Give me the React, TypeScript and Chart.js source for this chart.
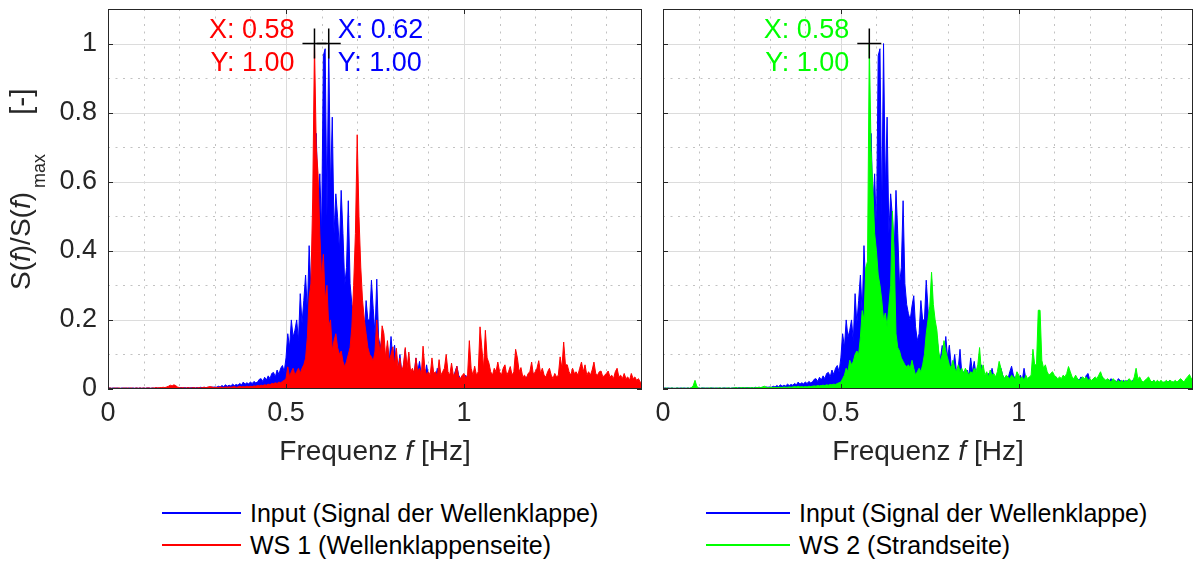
import React, { useEffect, useRef } from 'react';
import { Chart, registerables } from 'chart.js';

Chart.register(...registerables);

const FONT = '"Liberation Sans", Arial, Helvetica, sans-serif';
const AXIS_COLOR = '#262626';
const GRID_MAJOR = '#dcdcdc';
const GRID_MINOR = '#c2c2c2';

// Normalised spectra S(f)/S(f)max, one value per FFT bin (bin width FREQ_STEP, starting at 0 Hz)
const FREQ_STEP = 0.005;

const INPUT_SPEC = [
  0.002, 0.003, 0.002, 0.003, 0.002, 0.003, 0.002, 0.002, 0.003, 0.002,
  0.003, 0.002, 0.003, 0.002, 0.003, 0.002, 0.003, 0.002, 0.003, 0.002,
  0.003, 0.002, 0.003, 0.003, 0.002, 0.003, 0.002, 0.003, 0.003, 0.002,
  0.003, 0.002, 0.003, 0.002, 0.003, 0.003, 0.002, 0.003, 0.002, 0.003,
  0.003, 0.004, 0.003, 0.004, 0.003, 0.004, 0.003, 0.004, 0.004, 0.003,
  0.004, 0.003, 0.005, 0.004, 0.005, 0.004, 0.005, 0.004, 0.006, 0.005,
  0.006, 0.005, 0.008, 0.006, 0.010, 0.007, 0.012, 0.008, 0.011, 0.009,
  0.014, 0.010, 0.013, 0.011, 0.016, 0.012, 0.020, 0.014, 0.018, 0.015,
  0.020, 0.016, 0.022, 0.018, 0.020, 0.028, 0.030, 0.022, 0.034, 0.026,
  0.038, 0.030, 0.045, 0.048, 0.035, 0.055, 0.042, 0.060, 0.068, 0.050,
  0.090, 0.160, 0.120, 0.200, 0.150, 0.170, 0.200, 0.140, 0.276, 0.190,
  0.256, 0.330, 0.220, 0.415, 0.290, 0.343, 0.300, 0.740, 0.530, 0.623,
  0.450, 0.965, 0.985, 0.500, 1.000, 0.575, 0.787, 0.450, 0.565, 0.497,
  0.400, 0.575, 0.450, 0.300, 0.352, 0.545, 0.305, 0.245, 0.218, 0.200,
  0.240, 0.270, 0.180, 0.140, 0.160, 0.256, 0.200, 0.200, 0.315, 0.232,
  0.160, 0.318, 0.150, 0.120, 0.152, 0.100, 0.090, 0.126, 0.080, 0.152,
  0.090, 0.127, 0.070, 0.060, 0.100, 0.050, 0.060, 0.115, 0.045, 0.050,
  0.040, 0.055, 0.040, 0.090, 0.050, 0.080, 0.040, 0.035, 0.030, 0.070,
  0.035, 0.040, 0.030, 0.045, 0.030, 0.060, 0.035, 0.030, 0.040, 0.035,
  0.060, 0.040, 0.030, 0.035, 0.030, 0.050, 0.066, 0.040, 0.030, 0.035,
  0.030, 0.040, 0.025, 0.060, 0.030, 0.025, 0.035, 0.020, 0.030, 0.025,
  0.020, 0.030, 0.015, 0.020, 0.025, 0.020, 0.030, 0.020, 0.025, 0.030,
  0.025, 0.035, 0.020, 0.030, 0.025, 0.020, 0.030, 0.025, 0.035, 0.020,
  0.030, 0.025, 0.020, 0.030, 0.025, 0.035, 0.030, 0.025, 0.040, 0.045,
  0.025, 0.020, 0.030, 0.025, 0.020, 0.030, 0.025, 0.035, 0.020, 0.025,
  0.020, 0.025, 0.030, 0.020, 0.025, 0.020, 0.030, 0.025, 0.020, 0.025,
  0.020, 0.025, 0.015, 0.020, 0.025, 0.020, 0.015, 0.025, 0.020, 0.015,
  0.020, 0.015, 0.025, 0.020, 0.015, 0.020, 0.025, 0.015, 0.020, 0.015,
  0.020, 0.015, 0.020, 0.015, 0.020, 0.025, 0.015, 0.020, 0.015, 0.020,
  0.015, 0.020, 0.015, 0.020, 0.015, 0.020, 0.025, 0.015, 0.020, 0.015,
  0.015,
];

const WS1_SPEC = [
  0.002, 0.003, 0.002, 0.002, 0.003, 0.002, 0.003, 0.002, 0.002, 0.003,
  0.002, 0.003, 0.002, 0.003, 0.002, 0.002, 0.003, 0.002, 0.003, 0.002,
  0.003, 0.002, 0.003, 0.003, 0.002, 0.003, 0.003, 0.004, 0.003, 0.004,
  0.004, 0.005, 0.004, 0.006, 0.008, 0.011, 0.009, 0.012, 0.010, 0.006,
  0.004, 0.003, 0.004, 0.003, 0.003, 0.004, 0.003, 0.003, 0.004, 0.003,
  0.003, 0.004, 0.003, 0.004, 0.005, 0.004, 0.005, 0.007, 0.006, 0.005,
  0.004, 0.005, 0.004, 0.006, 0.005, 0.004, 0.006, 0.005, 0.006, 0.005,
  0.006, 0.007, 0.005, 0.006, 0.008, 0.006, 0.007, 0.006, 0.008, 0.007,
  0.008, 0.007, 0.009, 0.008, 0.010, 0.009, 0.011, 0.010, 0.012, 0.011,
  0.014, 0.012, 0.016, 0.015, 0.018, 0.016, 0.020, 0.018, 0.022, 0.025,
  0.030, 0.064, 0.035, 0.050, 0.060, 0.040, 0.050, 0.060, 0.045, 0.060,
  0.070, 0.089, 0.150, 0.266, 0.305, 0.550, 1.000, 0.700, 0.623, 0.450,
  0.320, 0.390, 0.257, 0.300, 0.180, 0.200, 0.112, 0.140, 0.160, 0.120,
  0.100, 0.110, 0.080, 0.064, 0.080, 0.100, 0.120, 0.180, 0.300, 0.450,
  0.736, 0.500, 0.353, 0.257, 0.200, 0.160, 0.120, 0.100, 0.093, 0.080,
  0.110, 0.200, 0.140, 0.100, 0.183, 0.160, 0.090, 0.140, 0.080, 0.100,
  0.122, 0.070, 0.118, 0.060, 0.090, 0.050, 0.070, 0.120, 0.060, 0.107,
  0.050, 0.060, 0.045, 0.090, 0.050, 0.060, 0.040, 0.124, 0.060, 0.040,
  0.050, 0.040, 0.090, 0.045, 0.050, 0.035, 0.085, 0.040, 0.050, 0.060,
  0.100, 0.050, 0.040, 0.075, 0.040, 0.045, 0.066, 0.035, 0.030, 0.040,
  0.045, 0.030, 0.040, 0.140, 0.060, 0.040, 0.066, 0.040, 0.050, 0.180,
  0.120, 0.060, 0.170, 0.090, 0.075, 0.050, 0.040, 0.060, 0.050, 0.078,
  0.050, 0.040, 0.060, 0.070, 0.040, 0.050, 0.065, 0.040, 0.050, 0.115,
  0.090, 0.050, 0.062, 0.035, 0.040, 0.030, 0.045, 0.050, 0.078, 0.040,
  0.050, 0.060, 0.082, 0.045, 0.060, 0.040, 0.035, 0.050, 0.060, 0.040,
  0.030, 0.045, 0.035, 0.040, 0.093, 0.060, 0.136, 0.070, 0.070, 0.050,
  0.040, 0.060, 0.045, 0.050, 0.040, 0.060, 0.078, 0.050, 0.070, 0.040,
  0.050, 0.040, 0.055, 0.078, 0.045, 0.040, 0.050, 0.052, 0.035, 0.040,
  0.045, 0.052, 0.035, 0.040, 0.030, 0.050, 0.060, 0.035, 0.040, 0.030,
  0.045, 0.030, 0.035, 0.025, 0.045, 0.030, 0.035, 0.025, 0.030, 0.020,
  0.015,
];

const WS2_SPEC = [
  0.002, 0.002, 0.003, 0.002, 0.002, 0.003, 0.002, 0.002, 0.003, 0.002,
  0.002, 0.003, 0.002, 0.002, 0.003, 0.002, 0.004, 0.010, 0.025, 0.008,
  0.003, 0.002, 0.003, 0.002, 0.003, 0.002, 0.003, 0.003, 0.002, 0.003,
  0.002, 0.003, 0.003, 0.002, 0.003, 0.002, 0.003, 0.003, 0.002, 0.003,
  0.003, 0.004, 0.003, 0.003, 0.004, 0.003, 0.004, 0.003, 0.004, 0.003,
  0.004, 0.003, 0.004, 0.004, 0.005, 0.004, 0.006, 0.008, 0.005, 0.004,
  0.004, 0.005, 0.004, 0.005, 0.004, 0.005, 0.005, 0.004, 0.006, 0.005,
  0.005, 0.006, 0.005, 0.006, 0.007, 0.006, 0.008, 0.006, 0.007, 0.006,
  0.007, 0.006, 0.008, 0.007, 0.008, 0.009, 0.008, 0.010, 0.009, 0.010,
  0.011, 0.010, 0.012, 0.011, 0.013, 0.012, 0.014, 0.013, 0.016, 0.018,
  0.020, 0.030, 0.040, 0.060, 0.050, 0.083, 0.070, 0.080, 0.100, 0.110,
  0.100, 0.150, 0.227, 0.200, 0.350, 0.370, 1.000, 0.690, 0.575, 0.450,
  0.400, 0.330, 0.300, 0.257, 0.200, 0.220, 0.180, 0.240, 0.300, 0.515,
  0.390, 0.160, 0.120, 0.110, 0.090, 0.080, 0.070, 0.064, 0.070, 0.060,
  0.083, 0.060, 0.040, 0.050, 0.060, 0.050, 0.070, 0.100, 0.160, 0.200,
  0.240, 0.338, 0.245, 0.200, 0.170, 0.110, 0.080, 0.100, 0.140, 0.110,
  0.090, 0.070, 0.060, 0.083, 0.060, 0.050, 0.070, 0.050, 0.060, 0.045,
  0.060, 0.050, 0.040, 0.050, 0.045, 0.060, 0.050, 0.070, 0.120, 0.050,
  0.070, 0.040, 0.050, 0.035, 0.055, 0.040, 0.045, 0.035, 0.050, 0.080,
  0.060, 0.040, 0.030, 0.040, 0.035, 0.030, 0.040, 0.035, 0.030, 0.050,
  0.040, 0.030, 0.035, 0.025, 0.040, 0.030, 0.035, 0.040, 0.115, 0.070,
  0.070, 0.228, 0.228, 0.083, 0.060, 0.070, 0.050, 0.040, 0.045, 0.050,
  0.040, 0.035, 0.030, 0.035, 0.030, 0.040, 0.035, 0.045, 0.065, 0.050,
  0.035, 0.030, 0.040, 0.030, 0.025, 0.030, 0.035, 0.030, 0.035, 0.025,
  0.030, 0.025, 0.030, 0.035, 0.030, 0.040, 0.050, 0.035, 0.030, 0.025,
  0.030, 0.025, 0.020, 0.030, 0.025, 0.020, 0.025, 0.020, 0.025, 0.020,
  0.025, 0.020, 0.030, 0.025, 0.020, 0.035, 0.060, 0.030, 0.035, 0.025,
  0.020, 0.025, 0.030, 0.035, 0.025, 0.020, 0.025, 0.020, 0.025, 0.020,
  0.025, 0.020, 0.020, 0.025, 0.020, 0.025, 0.022, 0.020, 0.025, 0.020,
  0.025, 0.030, 0.025, 0.020, 0.030, 0.035, 0.042, 0.030, 0.035, 0.030,
  0.025,
];

const X_TICKS = [0, 0.5, 1];
const X_MAJOR_GRID = [0.5, 1];
const X_MINOR_GRID = [0.1, 0.2, 0.3, 0.4, 0.6, 0.7, 0.8, 0.9, 1.1, 1.2, 1.3, 1.4];
const Y_TICKS = [0, 0.2, 0.4, 0.6, 0.8, 1];
const Y_MAJOR_GRID = [0.2, 0.4, 0.6, 0.8, 1];
const Y_MINOR_GRID = [0.1, 0.3, 0.5, 0.7, 0.9];
const Y_MAX = 1.1;

const LEGEND_INPUT = 'Input (Signal der Wellenklappe)';
const LEGEND_WS1 = 'WS 1 (Wellenklappenseite)';
const LEGEND_WS2 = 'WS 2 (Strandseite)';

const BLUE = '#0000ff';
const RED = '#ff0000';
const GREEN = '#00ff00';

// data tips: peak location and value of a series
const TIPS_LEFT = [
  { x: 0.58, y: 1.0, color: RED, align: 'right' },
  { x: 0.62, y: 1.0, color: BLUE, align: 'left' },
];
const TIPS_RIGHT = [{ x: 0.58, y: 1.0, color: GREEN, align: 'right' }];

type Tip = { x: number; y: number; color: string; align: string };
type Series = { label: string; color: string; values: number[] };
type Area = { left: number; top: number; right: number; bottom: number };

const toPoints = (vals: number[], xMax: number) =>
  vals
    .map((v, i) => ({ x: Math.round(i * FREQ_STEP * 1000) / 1000, y: v }))
    .filter((p) => p.x <= xMax + 1e-9);

type Piece = { t: string; italic?: boolean; size?: number; dy?: number };

function drawPieces(ctx: CanvasRenderingContext2D, pieces: Piece[], x0: number, y0: number) {
  let x = x0;
  pieces.forEach((p) => {
    ctx.font = `${p.italic ? 'italic ' : ''}${p.size || 28}px ${FONT}`;
    ctx.fillText(p.t, x, y0 + (p.dy || 0));
    x += ctx.measureText(p.t).width;
  });
}

function piecesWidth(ctx: CanvasRenderingContext2D, pieces: Piece[]) {
  let w = 0;
  pieces.forEach((p) => {
    ctx.font = `${p.italic ? 'italic ' : ''}${p.size || 28}px ${FONT}`;
    w += ctx.measureText(p.t).width;
  });
  return w;
}

function makeDecor(xMax: number, tips: Tip[], yTitle: boolean) {
  return {
    id: 'panelDecor',
    beforeDatasetsDraw(chart: any) {
      const { ctx, chartArea: a, scales } = chart;
      const xs = scales.x;
      const ys = scales.y;
      const vline = (v: number) => {
        const px = Math.round(xs.getPixelForValue(v)) + 0.5;
        ctx.beginPath();
        ctx.moveTo(px, a.top);
        ctx.lineTo(px, a.bottom);
        ctx.stroke();
      };
      const hline = (v: number) => {
        const py = Math.round(ys.getPixelForValue(v)) + 0.5;
        ctx.beginPath();
        ctx.moveTo(a.left, py);
        ctx.lineTo(a.right, py);
        ctx.stroke();
      };
      ctx.save();
      ctx.lineWidth = 1;
      ctx.strokeStyle = GRID_MINOR;
      ctx.setLineDash([2, 5.5]);
      X_MINOR_GRID.filter((v) => v < xMax).forEach(vline);
      Y_MINOR_GRID.forEach(hline);
      ctx.setLineDash([]);
      ctx.strokeStyle = GRID_MAJOR;
      X_MAJOR_GRID.forEach(vline);
      Y_MAJOR_GRID.forEach(hline);
      ctx.restore();
    },
    afterDatasetsDraw(chart: any) {
      const { ctx, chartArea: a, scales } = chart;
      const xs = scales.x;
      const ys = scales.y;
      ctx.save();
      // axes box with inward ticks
      ctx.strokeStyle = AXIS_COLOR;
      ctx.lineWidth = 1;
      ctx.strokeRect(a.left + 0.5, a.top + 0.5, a.right - a.left - 1, a.bottom - a.top - 1);
      ctx.beginPath();
      X_TICKS.forEach((v) => {
        const px = Math.round(xs.getPixelForValue(v)) + 0.5;
        ctx.moveTo(px, a.bottom);
        ctx.lineTo(px, a.bottom - 5);
        ctx.moveTo(px, a.top);
        ctx.lineTo(px, a.top + 5);
      });
      Y_TICKS.forEach((v) => {
        const py = Math.round(ys.getPixelForValue(v)) + 0.5;
        ctx.moveTo(a.left, py);
        ctx.lineTo(a.left + 5, py);
        ctx.moveTo(a.right, py);
        ctx.lineTo(a.right - 5, py);
      });
      ctx.stroke();

      // data tips
      tips.forEach((tip) => {
        const px = xs.getPixelForValue(tip.x);
        const py = ys.getPixelForValue(tip.y);
        ctx.strokeStyle = '#000000';
        ctx.lineWidth = 1.5;
        ctx.beginPath();
        ctx.moveTo(px - 12, py);
        ctx.lineTo(px + 12, py);
        ctx.moveTo(px, py - 15);
        ctx.lineTo(px, py + 15);
        ctx.stroke();
        ctx.fillStyle = tip.color;
        ctx.font = `27px ${FONT}`;
        ctx.textBaseline = 'alphabetic';
        ctx.textAlign = tip.align === 'right' ? 'right' : 'left';
        const tx = tip.align === 'right' ? px - 20 : px + 9;
        ctx.fillText(`X: ${tip.x.toFixed(2)}`, tx, py - 6);
        ctx.fillText(`Y: ${tip.y.toFixed(2)}`, tx, py + 27);
      });
      ctx.restore();
    },
    afterDraw(chart: any) {
      const { ctx, chartArea: a } = chart;
      ctx.save();
      ctx.fillStyle = AXIS_COLOR;
      ctx.textAlign = 'left';
      ctx.textBaseline = 'alphabetic';
      const xt: Piece[] = [{ t: 'Frequenz ' }, { t: 'f', italic: true }, { t: ' [Hz]' }];
      const w = piecesWidth(ctx, xt);
      drawPieces(ctx, xt, (a.left + a.right) / 2 - w / 2, 460);
      if (yTitle) {
        ctx.translate(30, 290);
        ctx.rotate(-Math.PI / 2);
        drawPieces(
          ctx,
          [
            { t: 'S(' },
            { t: 'f', italic: true },
            { t: ')/S(' },
            { t: 'f', italic: true },
            { t: ')' },
          ],
          0,
          0
        );
        drawPieces(ctx, [{ t: 'max', size: 18 }], 102, 15);
        drawPieces(ctx, [{ t: '[-]', size: 30 }], 175, 1);
      }
      ctx.restore();
    },
  };
}

type PanelProps = {
  left: number;
  width: number;
  height: number;
  xMax: number;
  area: Area;
  series: Series[];
  tips: Tip[];
  showYLabels: boolean;
};

function Panel({ left, width, height, xMax, area, series, tips, showYLabels }: PanelProps) {
  const ref = useRef<HTMLCanvasElement>(null);
  useEffect(() => {
    if (!ref.current) return;
    const tickFont = { family: FONT, size: 27 };
    const chart = new Chart(ref.current, {
      type: 'line',
      data: {
        datasets: series.map((s) => ({
          label: s.label,
          data: toPoints(s.values, xMax),
          borderColor: s.color,
          backgroundColor: s.color,
          borderWidth: 1,
          pointRadius: 0,
          tension: 0,
          fill: 'origin',
        })),
      },
      options: {
        animation: false,
        responsive: false,
        devicePixelRatio: 1,
        events: [],
        layout: { padding: { left: 0, top: area.top, right: width - area.right, bottom: 0 } },
        plugins: { legend: { display: false }, tooltip: { enabled: false } },
        scales: {
          x: {
            type: 'linear',
            min: 0,
            max: xMax,
            grid: { display: false, drawTicks: false },
            border: { display: false },
            afterBuildTicks: (s: any) => {
              s.ticks = X_TICKS.map((v) => ({ value: v }));
            },
            ticks: {
              font: tickFont,
              color: AXIS_COLOR,
              padding: 8,
              maxRotation: 0,
              autoSkip: false,
              callback: (v: any) => String(v),
            },
            afterFit: (s: any) => {
              s.height = height - area.bottom;
              s.paddingLeft = 0;
              s.paddingRight = 0;
            },
          },
          y: {
            type: 'linear',
            min: 0,
            max: Y_MAX,
            grid: { display: false, drawTicks: false },
            border: { display: false },
            afterBuildTicks: (s: any) => {
              s.ticks = Y_TICKS.map((v) => ({ value: v }));
            },
            ticks: {
              display: showYLabels,
              font: tickFont,
              color: AXIS_COLOR,
              padding: 11,
              autoSkip: false,
              callback: (v: any) => String(v),
            },
            afterFit: (s: any) => {
              s.width = area.left;
              s.paddingTop = 0;
              s.paddingBottom = 0;
            },
          },
        },
      },
      plugins: [makeDecor(xMax, tips, showYLabels)],
    } as any);
    return () => chart.destroy();
  }, []);
  return (
    <canvas
      ref={ref}
      width={width}
      height={height}
      style={{ position: 'absolute', left, top: 0, width, height }}
    />
  );
}

function LegendRow({ x, lineW, y, color, text }: { x: number; lineW: number; y: number; color: string; text: string }) {
  return (
    <>
      <div style={{ position: 'absolute', left: x, top: y - 1, width: lineW, height: 2, background: color }} />
      <div
        style={{
          position: 'absolute',
          left: x + lineW + 9,
          top: y - 12,
          fontFamily: FONT,
          fontSize: 25,
          lineHeight: '25px',
          color: '#000000',
          whiteSpace: 'nowrap',
        }}
      >
        {text}
      </div>
    </>
  );
}

export default function App() {
  return (
    <div style={{ position: 'absolute', left: 0, top: 0, width: 1193, height: 563, background: '#ffffff', overflow: 'hidden' }}>
      <Panel
        left={0}
        width={652}
        height={480}
        xMax={1.5}
        area={{ left: 108, top: 9, right: 642, bottom: 389 }}
        series={[
          { label: LEGEND_WS1, color: RED, values: WS1_SPEC },
          { label: LEGEND_INPUT, color: BLUE, values: INPUT_SPEC },
        ]}
        tips={TIPS_LEFT}
        showYLabels={true}
      />
      <Panel
        left={652}
        width={541}
        height={480}
        xMax={1.49}
        area={{ left: 11, top: 9, right: 541, bottom: 389 }}
        series={[
          { label: LEGEND_WS2, color: GREEN, values: WS2_SPEC },
          { label: LEGEND_INPUT, color: BLUE, values: INPUT_SPEC },
        ]}
        tips={TIPS_RIGHT}
        showYLabels={false}
      />
      <LegendRow x={162} lineW={79} y={513} color={BLUE} text={LEGEND_INPUT} />
      <LegendRow x={162} lineW={79} y={545} color={RED} text={LEGEND_WS1} />
      <LegendRow x={706} lineW={84} y={513} color={BLUE} text={LEGEND_INPUT} />
      <LegendRow x={706} lineW={84} y={545} color={GREEN} text={LEGEND_WS2} />
    </div>
  );
}
